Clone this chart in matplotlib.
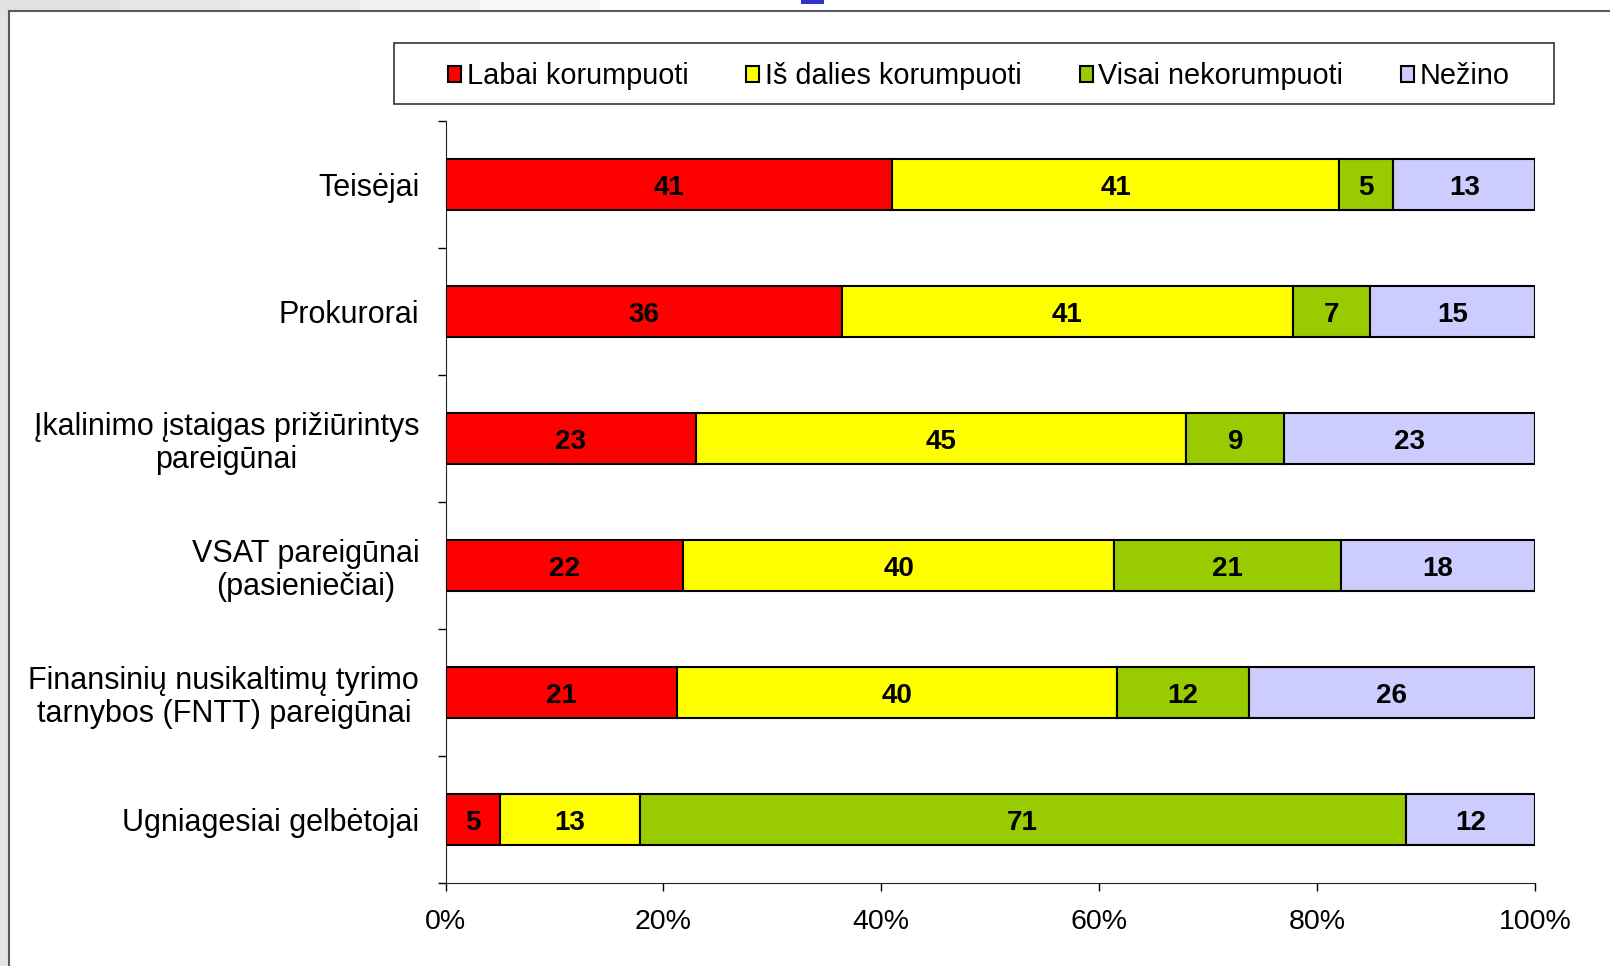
import matplotlib
matplotlib.use("Agg")
import matplotlib.pyplot as plt
import numpy as np
from matplotlib.patches import Rectangle

plt.rcParams['font.family'] = ['Liberation Sans', 'DejaVu Sans']

# Data (percent of respondents)
categories = [
    "Teisėjai",
    "Prokurorai",
    "Įkalinimo įstaigas prižiūrintys\npareigūnai",
    "VSAT pareigūnai\n(pasieniečiai)",
    "Finansinių nusikaltimų tyrimo\ntarnybos (FNTT) pareigūnai",
    "Ugniagesiai gelbėtojai",
]
labai = [41, 36, 23, 22, 21, 5]
is_dalies = [41, 41, 45, 40, 40, 13]
visai_ne = [5, 7, 9, 21, 12, 71]
nezino = [13, 15, 23, 18, 26, 12]

series_names = ["Labai korumpuoti", "Iš dalies korumpuoti", "Visai nekorumpuoti", "Nežino"]
colors = ["#FF0000", "#FFFF00", "#99CC00", "#CCCCFF"]
xticks = [0, 20, 40, 60, 80, 100]

W, H = 1610, 966
fig = plt.figure(figsize=(W / 100, H / 100), dpi=100)
fig.patch.set_facecolor("white")

# screenshot frame: grey strip at top-left, panel border
fig.patches.append(Rectangle((0, 0), 8.5 / W, 1, transform=fig.transFigure,
                             facecolor="#e4e4e4", edgecolor="none", zorder=0))
grays = ["#e2e2e2", "#e6e6e6", "#ebebeb", "#f1f1f1", "#f7f7f7"]
for k, g in enumerate(grays):
    x0 = k * 120
    fig.patches.append(Rectangle((x0 / W, 1 - 11 / H), 120 / W, 11 / H, transform=fig.transFigure,
                                 facecolor=g, edgecolor="none", zorder=0))
fig.patches.append(Rectangle((801 / W, 1 - 4 / H), 23 / W, 4 / H, transform=fig.transFigure,
                             facecolor="#3333cc", edgecolor="none", zorder=0))
fig.lines.append(plt.Line2D([8.5 / W, 8.5 / W], [0, 1 - 11 / H], transform=fig.transFigure,
                            color="#5a5a5a", lw=1.5))
fig.lines.append(plt.Line2D([8.5 / W, 1], [1 - 11 / H, 1 - 11 / H], transform=fig.transFigure,
                            color="#5a5a5a", lw=1.5))

ax = fig.add_axes([445.6 / W, 1 - 883 / H, (1535 - 445.6) / W, (883 - 121) / H])

data = np.array([labai, is_dalies, visai_ne, nezino], dtype=float)
shares = data / data.sum(axis=0) * 100
y = np.arange(len(categories))
left = np.zeros(len(categories))
handles = []
for i in range(4):
    b = ax.barh(y, shares[i], left=left, height=0.4, color=colors[i],
                edgecolor="black", linewidth=1.5, label=series_names[i], zorder=3)
    handles.append(b)
    for j in range(len(categories)):
        ax.text(left[j] + shares[i][j] / 2, y[j] + 0.025, str(int(data[i][j])),
                ha="center", va="center", fontsize=20, fontweight="bold", zorder=4)
    left += shares[i]

ax.set_xlim(0, 100)
ax.set_ylim(len(categories) - 0.5, -0.5)
ax.set_xticks(xticks)
ax.set_xticklabels([f"{v}%" for v in xticks], fontsize=20.5)
ax.set_yticks(y)
ax.set_yticklabels(categories, fontsize=22, multialignment="center", linespacing=1.15)
ax.set_yticks(np.arange(-0.5, len(categories)), minor=True)
ax.tick_params(axis="y", which="major", length=0, pad=19)
ax.tick_params(axis="y", which="minor", length=6, width=1, direction="out")
ax.tick_params(axis="x", length=6, width=1, direction="out", pad=13)
for s in ["top", "right"]:
    ax.spines[s].set_visible(False)
ax.spines["left"].set_color("#222222")
ax.spines["bottom"].set_color("#222222")

# legend box
fig.patches.append(Rectangle((394 / W, 1 - 104 / H), (1554 - 394) / W, 61 / H,
                             transform=fig.transFigure, facecolor="white",
                             edgecolor="#333333", linewidth=1.2, zorder=1))
fig.legend(handles=handles, loc="center left", bbox_to_anchor=(448 / W, 1 - 76.5 / H),
           ncol=4, frameon=False, fontsize=20.8, handlelength=0.45, handleheight=0.45,
           handletextpad=0.2, columnspacing=2.0, borderpad=0, borderaxespad=0)

plt.savefig("out.png", dpi=100)
